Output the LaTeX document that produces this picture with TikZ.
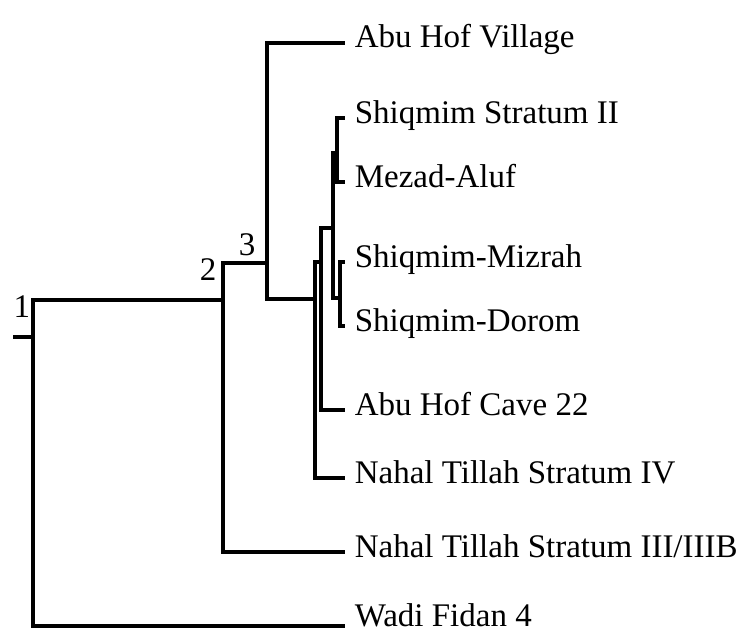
\documentclass[tikz,border=0pt]{standalone}
\usepackage{fontspec}
\setmainfont{Liberation Serif}
\usetikzlibrary{positioning}
\begin{document}
\begin{tikzpicture}[x=0.5pt,y=-0.5pt,line width=1.8pt,line cap=rect,
    every node/.style={font=\fontsize{16.5}{20}\selectfont,inner sep=0pt},
    leaf/.style={anchor=base west,xshift=5pt,yshift=-2.5pt}]
  \useasboundingbox (0,0) rectangle (742,631);
  % clusters
  \coordinate(R) at (15,337);
  \coordinate(C1) at (33,337);
  \coordinate(C2) at (223,300);
  \coordinate(C3) at (267,263);
  \coordinate(D) at (315,299);
  \coordinate(E) at (321,262);
  \coordinate(F) at (333,228);
  \coordinate(A) at (337,153);
  \coordinate(B) at (340,298);
  % sites
  \coordinate(village) at (343,43);
  \coordinate(shiq) at (343,118);
  \coordinate(mezad) at (343,182);
  \coordinate(mizrah) at (343,262);
  \coordinate(dorom) at (343,326);
  \coordinate(cave) at (343,410);
  \coordinate(nt4) at (343,478);
  \coordinate(nt3) at (343,552);
  \coordinate(wadi) at (343,626);
  \node[leaf] at (village) {Abu Hof Village};
  \node[leaf] at (shiq) {Shiqmim Stratum II};
  \node[leaf] at (mezad) {Mezad-Aluf};
  \node[leaf] at (mizrah) {Shiqmim-Mizrah};
  \node[leaf] at (dorom) {Shiqmim-Dorom};
  \node[leaf] at (cave) {Abu Hof Cave 22};
  \node[leaf] at (nt4) {Nahal Tillah Stratum IV};
  \node[leaf] at (nt3) {Nahal Tillah Stratum III/IIIB};
  \node[leaf,yshift=2.5pt,text depth=0pt] at (wadi) {Wadi Fidan 4};
  \node(L1) at (22,307) {1};
  \node(L2) at (208,270) {2};
  \node(L3) at (247,245) {3};
  %%
  \draw(R)--(C1);
  \draw(C1)|-(C2);
  \draw(C1)|-(wadi);
  \draw(C2)|-(C3);
  \draw(C2)|-(nt3);
  \draw(C3)|-(village);
  \draw(C3)|-(D);
  \draw(D)|-(E);
  \draw(D)|-(nt4);
  \draw(E)|-(F);
  \draw(E)|-(cave);
  \draw(F)|-(A);
  \draw(F)|-(B);
  \draw(A)|-(shiq);
  \draw(A)|-(mezad);
  \draw(B)|-(mizrah);
  \draw(B)|-(dorom);
\end{tikzpicture}
\end{document}
